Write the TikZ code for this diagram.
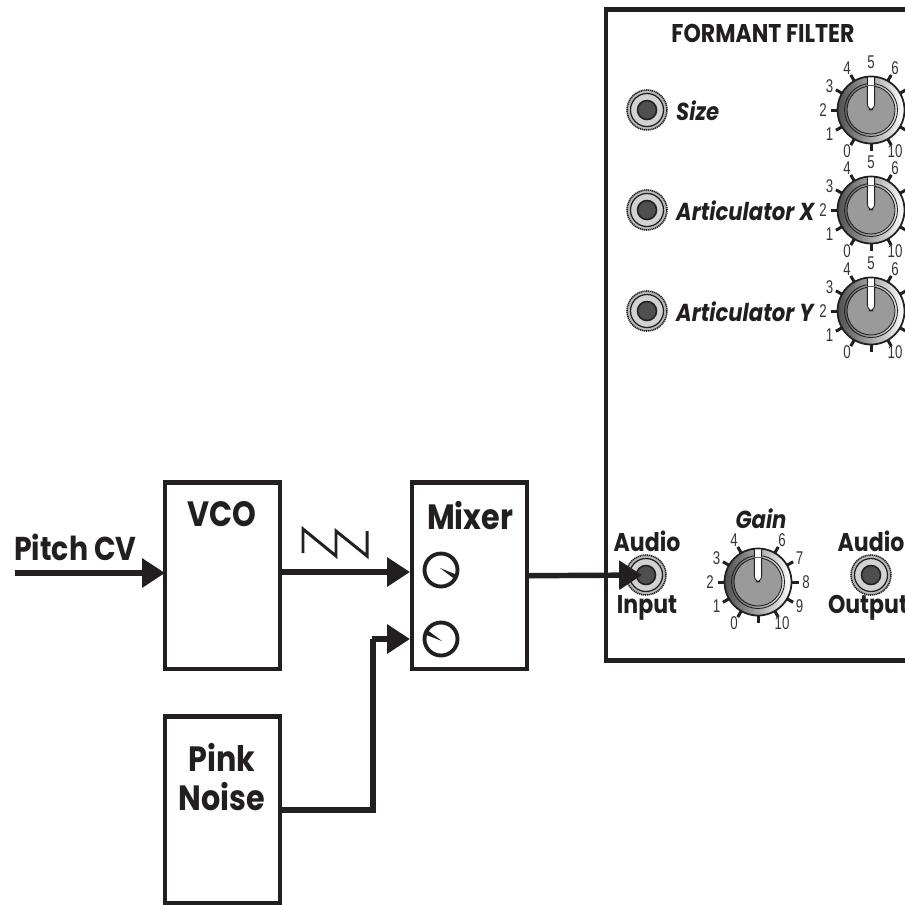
\documentclass[tikz,border=0pt]{standalone}
\usepackage{fontspec}
\usepackage{xcolor}
\usepackage{tikz}
\usetikzlibrary{arrows.meta}
\setmainfont{Poppins}
\newfontfamily\panelfont[FakeStretch=0.86]{Poppins}
\newfontfamily\dialfont[FakeStretch=0.72]{Liberation Sans}
\definecolor{ink}{HTML}{231F20}
\definecolor{dialgray}{HTML}{9A9A9A}
\definecolor{dialdark}{HTML}{4F4F4F}
\tikzset{
  modbox/.style={draw=ink,line width=2.75pt,fill=white,minimum width=2.3cm,minimum height=3.73cm,inner sep=0pt,outer sep=0pt},
  flow/.style={draw=ink,line width=3.1pt,-{Triangle[length=13pt,width=16pt]}},
  wire/.style={draw=ink,line width=3.1pt},
  biglabel/.style={font=\panelfont\fontsize{20}{22.7}\selectfont\bfseries,text=ink,align=center},
  midlabel/.style={font=\panelfont\fontsize{14.6}{18}\selectfont\bfseries,text=ink},
  cvlabel/.style={font=\panelfont\fontsize{14}{18}\selectfont\bfseries\itshape,text=ink},
  dialnum/.style={font=\dialfont\fontsize{10.5}{11}\selectfont,text=ink!90,inner sep=0pt},
  dialbody/.style={circle,draw=ink,line width=1pt,minimum size=1.34cm,inner sep=0pt,outer sep=0pt,shading angle=70,left color=dialdark,right color=white},
  jackbody/.style={circle,draw=ink,line width=.9pt,dash pattern=on .7pt off .4pt,fill=dialgray!70,minimum size=.8cm,inner sep=0pt,outer sep=0pt}
}
\newcommand{\dial}[4]{
  \foreach \n in {0,...,10}
    \draw[ink,line width=1.7pt] (#2,#3) ++({240-30*\n}:33) -- ++({240-30*\n}:7.5);
  \node[dialbody] (#1) at (#2,#3) {};
  \draw[ink,line width=.5pt,fill=dialgray] (#1.center) circle [radius=24];
  \draw[ink,line width=.5pt] (#1.center) circle [radius=26.5];
  \draw[ink,line width=.5pt,fill=white] (#2-3.6,#3-33) [rounded corners=3.4pt] -- (#2-3.6,#3) -- (#2+3.6,#3) [sharp corners] -- (#2+3.6,#3-33) -- cycle;
  \draw[ink!70,line width=.4pt] (#2-3.6,#3-25) -- (#2+3.6,#3-25);
  \foreach \n in {#4}
    \node[dialnum] at ({#2+48*cos(240-30*\n)},{#3-48*sin(240-30*\n)}) {\n};
}
\newcommand{\jack}[3]{
  \node[jackbody] (#1) at (#2,#3) {};
  \draw[ink,line width=.7pt,fill=dialgray!45] (#1.center) circle [radius=16.5];
  \draw[ink,line width=.9pt,fill=dialdark] (#1.center) circle [radius=9.5];
}
\begin{document}
\begin{tikzpicture}[x=0.02cm,y=-0.02cm]
\clip (0,0) rectangle (905,904);
\fill[white] (0,0) rectangle (905,904);
\node[modbox,minimum width=7.88cm,minimum height=13.02cm] (filter) at (803,335) {};
\node[midlabel] (filtertitle) at (763,33) {FORMANT FILTER};

\jack{sizejack}{647}{110}
\jack{xjack}{647}{210}
\jack{yjack}{647}{311}
\jack{audioin}{646}{575}
\jack{audioout}{871}{575}
\node[cvlabel,anchor=west] (sizelabel) at (670,111) {Size};
\node[cvlabel,anchor=west] (xlabel) at (670,211) {Articulator X};
\node[cvlabel,anchor=west] (ylabel) at (670,312) {Articulator Y};
\dial{sizedial}{871}{110}{0,...,6,10}
\dial{xdial}{871}{210}{0,...,6,10}
\dial{ydial}{871}{311}{0,...,6,10}
\dial{gaindial}{758}{582}{0,1,2,3,4,6,7,8,9,10}
\node[cvlabel] (gainlabel) at (761,519) {Gain};
\node[midlabel] (audioinlabel) at (647,541) {Audio};
\node[midlabel] (inputlabel) at (647,608) {Input};
\node[midlabel] (audiooutlabel) at (871,541) {Audio};
\node[midlabel] (outputlabel) at (868,608) {Output};

\node[modbox] (vco) at (222.5,575.7) {};
\node[modbox] (mixer) at (469.5,575.7) {};
\node[modbox] (noise) at (222.5,810) {};
\node[biglabel] (vcolabel) at (222,514) {VCO};
\node[biglabel] (mixerlabel) at (470,516) {Mixer};
\node[biglabel] (noiselabel) at (222,777) {Pink\\Noise};
\node[biglabel,font=\panelfont\fontsize{18.8}{22}\selectfont\bfseries,anchor=west] (pitchlabel) at (8,547) {Pitch CV};

\coordinate (pitchstart) at (15,573);
\coordinate (mixa) at (410,572);
\coordinate (mixb) at (410,639);
\coordinate (noisebend) at (373,639);
\draw[flow] (pitchstart) -- (pitchstart -| vco.west);
\draw[flow] (mixa -| vco.east) -- (mixa);
\draw[wire] (noise.east) -| (noisebend);
\draw[flow] (noisebend) ++(-1.5,0) -- (mixb);
\draw[flow,shorten >=4*0.02cm] (mixer.east) -- (audioin.center);

\draw[ink,line width=1.7pt] (303,553) -- (303,529) -- (336,556) -- (336,531) -- (367,556) -- (367,531);
\node[circle,draw=ink,line width=2.2pt,minimum size=.66cm,inner sep=0pt] (mixdiala) at (441,570) {};
\node[circle,draw=ink,line width=2.2pt,minimum size=.66cm,inner sep=0pt] (mixdialb) at (441,639) {};
\fill[ink] (440,568) -- (456,574.5) -- (454.5,579) -- cycle;
\fill[ink] (442,641) -- (426.5,635) -- (428,630.5) -- cycle;
\end{tikzpicture}
\end{document}
